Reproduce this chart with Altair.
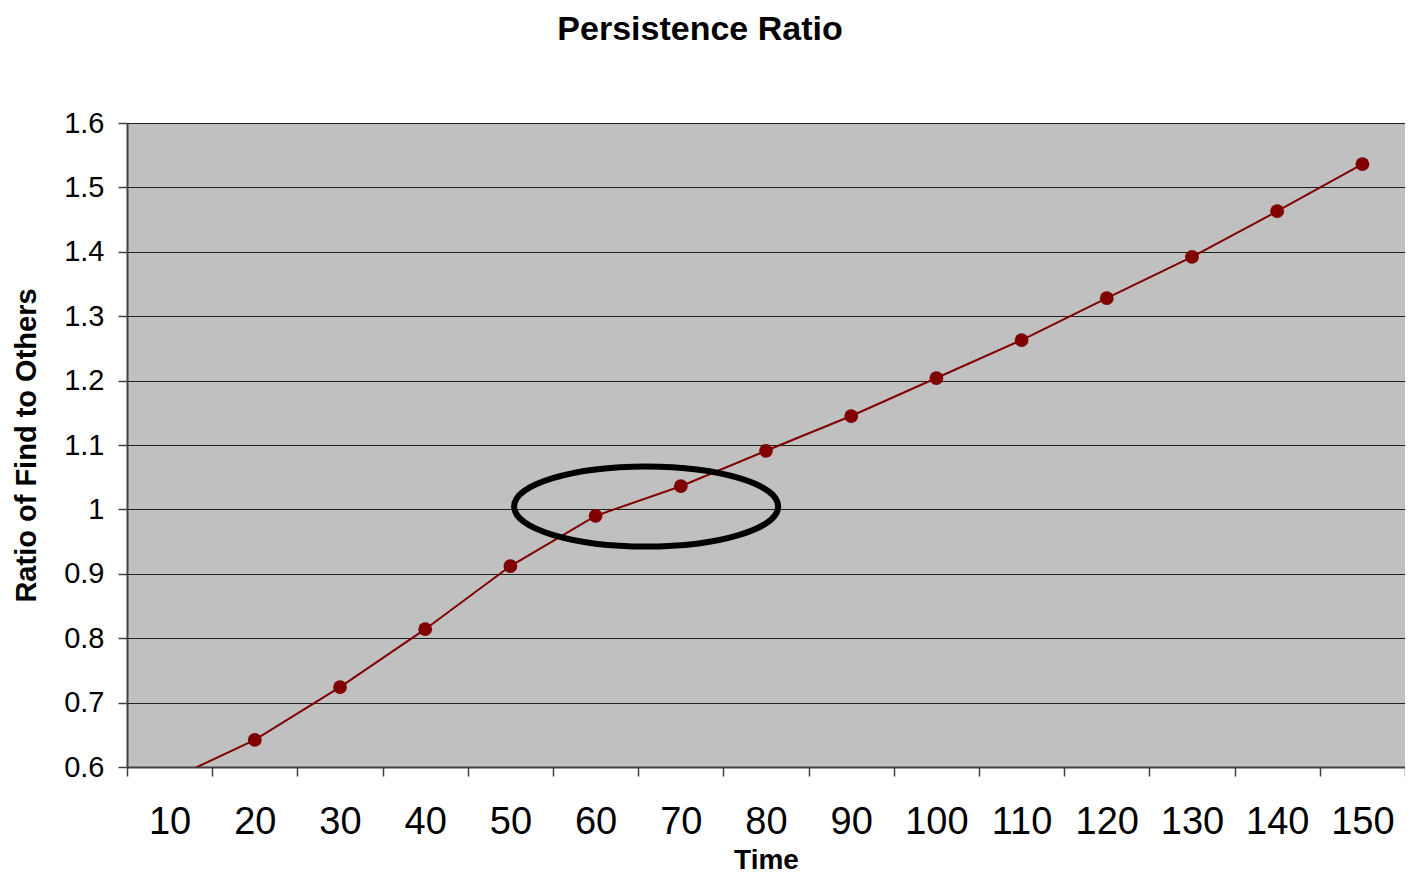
import altair as alt
import pandas as pd

# Data
times = ["10", "20", "30", "40", "50", "60", "70", "80", "90", "100",
         "110", "120", "130", "140", "150"]
ratios = [0.58, 0.642, 0.724, 0.814, 0.912, 0.990, 1.036, 1.091, 1.145,
          1.204, 1.263, 1.328, 1.392, 1.463, 1.536]
y_ticks = [0.6, 0.7, 0.8, 0.9, 1.0, 1.1, 1.2, 1.3, 1.4, 1.5, 1.6]

# annotation: ellipse around the crossing of ratio = 1 (between 60 and 70)
highlight_time = ["60"]
highlight_ratio = [1.0]

df = pd.DataFrame({"Time": times, "Ratio": ratios})
ann = pd.DataFrame({"Time": highlight_time, "Ratio": highlight_ratio})

FONT = "Liberation Sans"
RED = "#800000"

x_enc = alt.X(
    "Time:N", sort=times, title="Time",
    scale=alt.Scale(paddingInner=0, paddingOuter=0),
    axis=alt.Axis(
        labelAngle=0, labelFontSize=38, labelFont=FONT, labelColor="black",
        labelPadding=27, tickBand="extent", tickSize=9, tickColor="#404040",
        tickWidth=1.5, domainColor="#404040", domainWidth=2, grid=False,
        titleFont=FONT, titleFontSize=28, titleFontWeight="bold",
        titleColor="black", titlePadding=5,
    ),
)
y_enc = alt.Y(
    "Ratio:Q", title="Ratio of Find to Others",
    scale=alt.Scale(domain=[0.6, 1.6], nice=False, zero=False),
    axis=alt.Axis(
        values=y_ticks, format="~g", labelFontSize=29, labelFont=FONT,
        labelColor="black", labelPadding=14, tickSize=9, tickColor="#404040",
        tickWidth=1.5, domainColor="#404040", domainWidth=2, grid=True,
        gridColor="#202020", gridWidth=1, gridOpacity=1,
        titleFont=FONT, titleFontSize=29, titleFontWeight="bold",
        titleColor="black", titlePadding=22,
    ),
)

base = alt.Chart(df).encode(x=x_enc, y=y_enc)
line = base.mark_line(color=RED, strokeWidth=2, clip=True)
pts = base.mark_point(filled=True, color=RED, size=190, opacity=1, clip=True)

ellipse_path = ("M -0.94 -0.022 A 1 0.303 0 1 0 1.06 -0.022 "
                "A 1 0.303 0 1 0 -0.94 -0.022 Z")
ellipse = alt.Chart(ann).mark_point(
    shape=ellipse_path, filled=False, stroke="black", strokeWidth=6,
    size=69696, opacity=1,
).encode(
    x=alt.X("Time:N", sort=times, bandPosition=1),
    y=alt.Y("Ratio:Q"),
)

chart = alt.layer(line, pts, ellipse).properties(
    width=1278,
    height=644,
    autosize=alt.AutoSizeParams(type="none"),
    padding={"left": 119, "top": 115, "right": 0, "bottom": 108},
    title=alt.TitleParams(
        "Persistence Ratio", font=FONT, fontSize=34, fontWeight="bold",
        color="black", anchor="middle", frame="group", dx=-66, offset=62,
    ),
).configure(background="white").configure_view(fill="#C0C0C0", stroke=None)

chart.save("out.html", embed_options={"renderer": "svg", "actions": False})
